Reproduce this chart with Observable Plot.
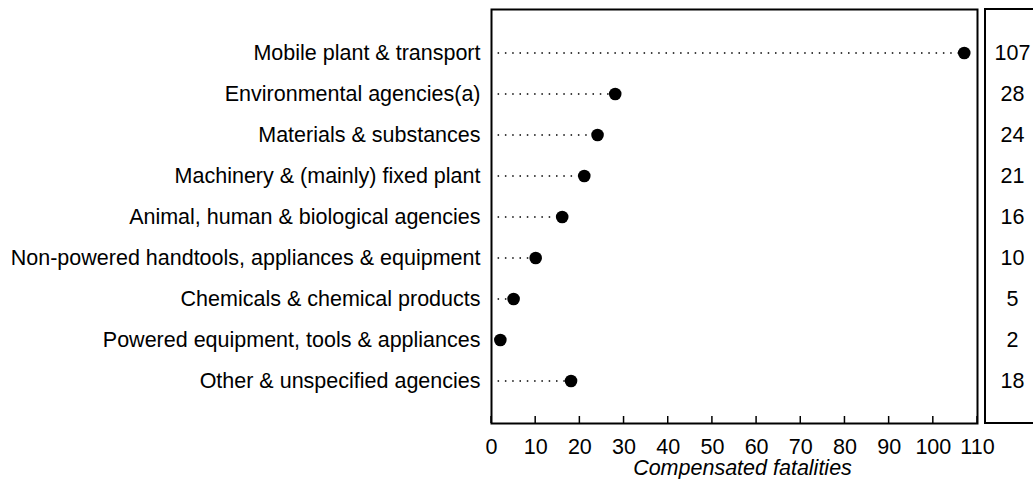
<!DOCTYPE html>
<html>
<head>
<meta charset="utf-8">
<script src="https://cdn.jsdelivr.net/npm/d3@7"></script>
<script src="https://cdn.jsdelivr.net/npm/@observablehq/plot@0.6"></script>
<style>
  html, body { margin: 0; padding: 0; background: #fff; }
  #chart svg { display: block; }
</style>
</head>
<body>
<div id="chart"></div>
<script>
const categories = [
  "Mobile plant & transport",
  "Environmental agencies(a)",
  "Materials & substances",
  "Machinery & (mainly) fixed plant",
  "Animal, human & biological agencies",
  "Non-powered handtools, appliances & equipment",
  "Chemicals & chemical products",
  "Powered equipment, tools & appliances",
  "Other & unspecified agencies"
];
const fatalities = [107, 28, 24, 21, 16, 10, 5, 2, 18];
const xTicks = [0, 10, 20, 30, 40, 50, 60, 70, 80, 90, 100, 110];
const xLabel = "Compensated fatalities";

const data = categories.map((c, i) => ({category: c, value: fatalities[i]}));
const font = "'Liberation Sans', Arial, sans-serif";
const FS = 21.5;

// box around the value column, right of the plot frame
const valueBox = (index, scales, values, dims) => {
  const g = d3.create("svg:g");
  const xr = dims.width - dims.marginRight + 8;
  g.append("path")
    .attr("d", `M${dims.width + 5},${dims.marginTop}H${xr}V${dims.height - dims.marginBottom}H${dims.width + 5}`)
    .attr("fill", "none")
    .attr("stroke", "black")
    .attr("stroke-width", 2);
  return g.node();
};

const chart = Plot.plot({
  width: 1033,
  height: 479,
  marginTop: 9,
  marginBottom: 56,
  marginLeft: 491,
  marginRight: 56,
  style: {fontFamily: font, fontSize: FS + "px", color: "black", background: "white"},
  x: {domain: [0, 110], ticks: xTicks},
  y: {type: "band", domain: categories, paddingInner: 0, paddingOuter: 0.5},
  marks: [
    Plot.ruleY(data, {
      y: "category", x1: 0, x2: "value",
      stroke: "black", strokeWidth: 1.3,
      strokeDasharray: "1.5,5.8", strokeDashoffset: 0.7
    }),
    Plot.dot(data, {x: "value", y: "category", r: 6.3, fill: "black", stroke: "none"}),
    Plot.axisY({tickSize: 0, tickPadding: 11, label: null, fontSize: FS}),
    Plot.axisX({ticks: xTicks, tickSize: 0, tickPadding: 15, label: null, fontSize: FS}),
    Plot.text([xLabel], {frameAnchor: "bottom", dx: 8, dy: 45, lineAnchor: "middle", fontStyle: "italic", fontSize: FS, text: d => d}),
    Plot.frame({stroke: "black", strokeWidth: 2}),
    valueBox,
    Plot.text(data, {x: () => 110, y: "category", text: "value", dx: 35, textAnchor: "middle", fontSize: FS})
  ]
});

// inward tick marks on the x axis, positioned with the plot's own x scale
const xs = chart.scale("x");
const yBottom = 479 - 56;
const tickG = d3.select(chart).append("g").attr("aria-label", "inner-ticks");
for (const t of xTicks) {
  const x = xs.apply(t);
  tickG.append("line")
    .attr("x1", x).attr("x2", x)
    .attr("y1", yBottom).attr("y2", yBottom - 7)
    .attr("stroke", "black").attr("stroke-width", 1.5);
}
document.getElementById("chart").appendChild(chart);
</script>
</body>
</html>
